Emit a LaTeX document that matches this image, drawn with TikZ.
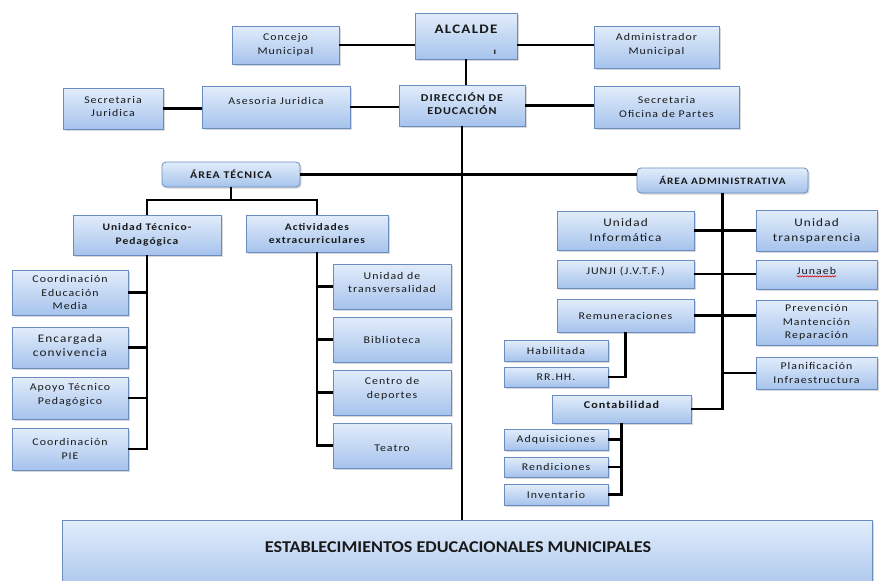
\documentclass[tikz,border=0pt]{standalone}
\usepackage{fontspec}
\setmainfont{Carlito}[FakeStretch=1.15,LetterSpace=10]
\newfontfamily\estfont{Carlito}[FakeStretch=1.1]
\usetikzlibrary{fit,shadows,calc,decorations.pathmorphing}
\definecolor{bord}{HTML}{6A8CC0}
\definecolor{topc}{HTML}{E2EDFB}
\definecolor{botc}{HTML}{A6C3EC}
\tikzset{
 box/.style={draw=bord, line width=0.8pt, top color=topc, bottom color=botc, inner sep=0pt,
   drop shadow={opacity=0.3,shadow xshift=1.5pt,shadow yshift=-1.5pt}},
 rbox/.style={box, rounded corners=4pt},
 conn/.style={line width=2.6pt, black},
 txt/.style={align=center, inner sep=0pt, font=\fontsize{10.3}{13.5}\selectfont, text=black!90},
 btxt/.style={txt, font=\bfseries\fontsize{10}{13.5}\selectfont},
}
\newcommand\bx[7]{\node[box,fit={(#2,#3) (#4,#5)}] (#1) {}; \node[txt,#6] (#1-t) at (#1.center) {#7};}
\begin{document}
\begin{tikzpicture}[x=1pt,y=-1pt]
\fill[white] (0,0) rectangle (881,581);
\useasboundingbox (0,0) rectangle (881,581);
% top levels
\bx{conc}{232}{26}{339}{64}{}{Concejo\\Municipal}
\bx{alc}{415}{13}{517}{59}{btxt,font=\bfseries\fontsize{13}{15}\selectfont,yshift=7pt}{ALCALDE}
\node[txt,font=\bfseries\fontsize{9}{10}\selectfont] (alci) at (495,52) {ı};
\bx{adm}{594}{26}{719}{68}{yshift=2pt}{Administrador\\Municipal}
\bx{secj}{63}{88}{163}{129}{yshift=2pt}{Secretaria\\Juridica}
\bx{ases}{202}{86}{350}{128}{yshift=6pt}{Asesoria Juridica}
\bx{dir}{399}{85}{525}{126}{btxt,font=\bfseries\fontsize{10.5}{13.5}\selectfont,yshift=2pt}{DIRECCIÓN DE\\EDUCACIÓN}
\bx{sop}{594}{86}{739}{128}{}{Secretaria\\Oficina de Partes}
% areas
\node[rbox,fit={(162,162) (300,187)}] (at) {};
\node[btxt,font=\bfseries\fontsize{10.3}{12}\selectfont] (at-t) at (at.center) {ÁREA TÉCNICA};
\node[rbox,fit={(637,168) (808,193)}] (aa) {};
\node[btxt,font=\bfseries\fontsize{9.8}{12}\selectfont] (aa-t) at (aa.center) {ÁREA ADMINISTRATIVA};
% tecnica
\bx{utp}{73}{215}{221}{255}{btxt}{Unidad Técnico-\\Pedagógica}
\bx{act}{246}{215}{388}{252}{btxt}{Actividades\\extracurriculares}
\bx{cem}{12}{270}{128}{315}{}{Coordinación\\Educación\\Media}
\bx{enc}{12}{327}{128}{368}{font=\fontsize{11.5}{14}\selectfont,yshift=2pt}{Encargada\\convivencia}
\bx{atp}{12}{377}{128}{419}{yshift=3pt}{Apoyo Técnico\\Pedagógico}
\bx{pie}{12}{428}{128}{470}{}{Coordinación\\PIE}
\bx{utv}{333}{264}{451}{309}{yshift=4pt}{Unidad de\\transversalidad}
\bx{bib}{333}{317}{451}{362}{}{Biblioteca}
\bx{cdep}{333}{370}{451}{415}{yshift=4pt}{Centro de\\deportes}
\bx{tea}{333}{423}{451}{468}{yshift=-3pt}{Teatro}
% administrativa
\bx{uinf}{557}{211}{694}{250}{font=\fontsize{11.5}{15}\selectfont}{Unidad\\Informática}
\bx{utr}{756}{210}{877}{251}{font=\fontsize{11.5}{15}\selectfont}{Unidad\\transparencia}
\bx{junji}{557}{260}{694}{288}{yshift=3pt}{JUNJI (J.V.T.F.)}
\bx{junaeb}{756}{260}{877}{289}{yshift=4pt}{Junaeb}
\bx{rem}{557}{299}{694}{332}{}{Remuneraciones}
\bx{prev}{756}{300}{877}{345}{}{Prevención\\Mantención\\Reparación}
\bx{hab}{504}{340}{608}{361}{}{Habilitada}
\bx{rrhh}{504}{367}{608}{387}{}{RR.HH.}
\bx{plan}{756}{357}{877}{389}{}{Planificación\\Infraestructura}
\bx{cont}{552}{395}{691}{423}{btxt,font=\bfseries\fontsize{10.5}{12}\selectfont,yshift=4pt}{Contabilidad}
\bx{adq}{504}{429}{608}{450}{}{Adquisiciones}
\bx{ren}{504}{457}{608}{477}{}{Rendiciones}
\bx{inv}{504}{484}{608}{505}{}{Inventario}
% establecimientos
\node[box,fit={(62,520) (872,595)}] (est) {};
\node[txt,font=\estfont\bfseries\fontsize{16.5}{18}\selectfont] (est-t) at (458,547) {ESTABLECIMIENTOS EDUCACIONALES MUNICIPALES};
% spell-check squiggle
\draw[red!85!black, line width=0.6pt, decorate, decoration={snake,amplitude=0.6pt,segment length=2.5pt}]
  ($(junaeb-t.south west)+(0,2)$) -- ($(junaeb-t.south east)+(0,2)$);
% connectors
\draw[conn] (conc.east) -- (conc.east -| alc.west);
\draw[conn] (alc.east |- conc.east) -- (adm.west |- conc.east);
\draw[conn] (alc.south) -- (alc.south |- dir.north);
\draw[conn] (secj.east) -- (secj.east -| ases.west);
\draw[conn] (ases.east) -- (ases.east -| dir.west);
\draw[conn] (dir.east) -- (dir.east -| sop.west);
\draw[conn] (dir.south) -- (dir.south |- est.north);
\draw[conn] (at.east) -- (at.east -| aa.west);
\coordinate (atj) at (231,200);
\draw[conn] (at.south) -- (at.south |- atj);
\draw[conn] (utp.north) |- (atj) -| (act.north);
\draw[conn] (utp.south) |- (pie.east);
\foreach \n in {cem,enc,atp} \draw[conn] (\n.east) -- (\n.east -| utp.south);
\draw[conn] (act.south) |- (tea.west);
\foreach \n in {utv,bib,cdep} \draw[conn] (\n.west) -- (\n.west -| act.south);
\draw[conn] (aa.south) |- (cont.east);
\draw[conn] (uinf.east) -- (uinf.east -| utr.west);
\draw[conn] (junji.east) -- (junji.east -| junaeb.west);
\draw[conn] (rem.east) -- (rem.east -| prev.west);
\draw[conn] (plan.west) -- (plan.west -| aa.south);
\draw[conn] (rem.south) |- (rrhh.east);
\draw[conn] (cont.south) |- (inv.east);
\foreach \n in {adq,ren} \draw[conn] (\n.east) -- (\n.east -| cont.south);
\end{tikzpicture}
\end{document}
